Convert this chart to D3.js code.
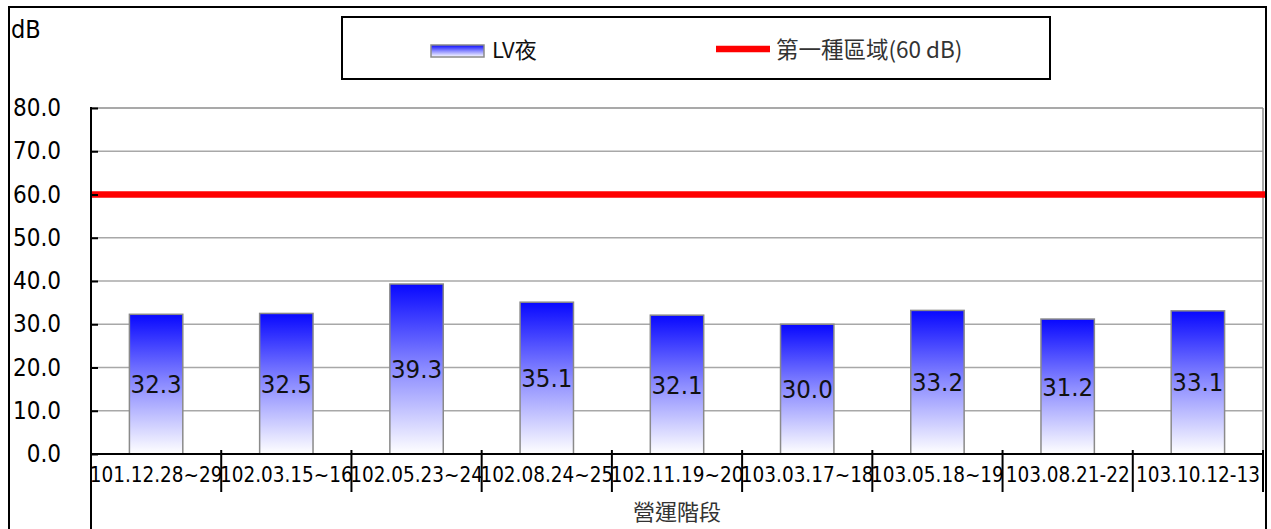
<!DOCTYPE html>
<html>
<head>
<meta charset="utf-8">
<script src="https://cdn.jsdelivr.net/npm/d3@7"></script>
<style>
    body { margin: 0; background: #fff; }
    svg { display: block; }
    .num { font-family: "DejaVu Sans Condensed", "DejaVu Sans", sans-serif; font-stretch: condensed; }
    .cjk { font-family: "Noto Sans CJK TC", "Noto Sans CJK SC", sans-serif; }
</style>
</head>
<body>
<svg></svg>
<script>
const categories = ["101.12.28~29", "102.03.15~16", "102.05.23~24", "102.08.24~25", "102.11.19~20",
    "103.03.17~18", "103.05.18~19", "103.08.21-22", "103.10.12-13"];
const values = [32.3, 32.5, 39.3, 35.1, 32.1, 30.0, 33.2, 31.2, 33.1];
const limitValue = 60;
const yTicks = [0, 10, 20, 30, 40, 50, 60, 70, 80];
const seriesName = "LV夜";
const limitName = "第一種區域(60 dB)";
const unitLabel = "dB";
const xTitle = "營運階段";

const width = 1271;
const height = 529;
const plotLeft = 91, plotRight = 1263, plotTop = 108, plotBottom = 454;

let svg = d3.select("svg").attr("width", width).attr("height", height);

// gradient for the bars: blue on top fading to white
let defs = svg.append("defs");
let grad = defs.append("linearGradient").attr("id", "barGrad")
    .attr("x1", 0).attr("y1", 0).attr("x2", 0).attr("y2", 1);
grad.append("stop").attr("offset", "0%").attr("stop-color", "#0808ff");
grad.append("stop").attr("offset", "50%").attr("stop-color", "#8c8cff");
grad.append("stop").attr("offset", "100%").attr("stop-color", "#ffffff");

let scX = d3.scaleBand().domain(categories).range([plotLeft, plotRight]);
let scY = d3.scaleLinear().domain([0, 80]).range([plotBottom, plotTop]);
const barW = scX.bandwidth() * 0.41;

// outer frame (open at the bottom)
svg.append("path")
    .attr("d", `M9,${height} L9,7 L1266,7 L1266,${height}`)
    .attr("fill", "none").attr("stroke", "#000").attr("stroke-width", 2);

// grid lines
svg.append("g").selectAll("line").data(yTicks.filter(d => d > 0)).enter().append("line")
    .attr("x1", plotLeft).attr("x2", plotRight)
    .attr("y1", d => scY(d)).attr("y2", d => scY(d))
    .attr("stroke", d => d === 80 ? "#8c8c8c" : "#a8a8a8").attr("stroke-width", 1.5);

// right edge of the plot area
svg.append("line")
    .attr("x1", plotRight).attr("x2", plotRight).attr("y1", plotTop).attr("y2", plotBottom)
    .attr("stroke", "#8c8c8c").attr("stroke-width", 1.5);

// bars
svg.selectAll(".bar").data(values).enter().append("rect").attr("class", "bar")
    .attr("x", (d, i) => scX(categories[i]) + scX.bandwidth() / 2 - barW / 2)
    .attr("y", d => scY(d))
    .attr("width", barW)
    .attr("height", d => scY(0) - scY(d))
    .attr("fill", "url(#barGrad)")
    .attr("stroke", "#8a8a8a").attr("stroke-width", 1.5);

// value labels, centred in the bar
svg.selectAll(".val").data(values).enter().append("text").attr("class", "val num")
    .attr("x", (d, i) => scX(categories[i]) + scX.bandwidth() / 2)
    .attr("y", d => (scY(d) + scY(0)) / 2)
    .attr("text-anchor", "middle").attr("dominant-baseline", "central")
    .attr("font-size", 25.5).attr("fill", "#111")
    .text(d => d3.format(".1f")(d));

// limit line
svg.append("line")
    .attr("x1", plotLeft).attr("x2", plotRight + 2)
    .attr("y1", scY(limitValue)).attr("y2", scY(limitValue))
    .attr("stroke", "#ff0000").attr("stroke-width", 6.5);

// y axis
let axisY = d3.axisLeft(scY).tickValues(yTicks).tickFormat(d3.format(".1f"))
    .tickSize(-7).tickSizeOuter(0).tickPadding(30);
let gY = svg.append("g").attr("transform", `translate(${plotLeft},0)`).call(axisY);
gY.select(".domain").remove();
gY.selectAll("line").attr("stroke", "#000").attr("stroke-width", 2);
gY.selectAll("text").attr("class", "num").attr("font-size", 24).attr("fill", "#000");
svg.append("line")
    .attr("x1", plotLeft).attr("x2", plotLeft).attr("y1", plotTop - 1).attr("y2", height)
    .attr("stroke", "#000").attr("stroke-width", 2);

// x axis
let axisX = d3.axisBottom(scX).tickSize(0).tickPadding(13);
let gX = svg.append("g").attr("transform", `translate(0,${plotBottom})`).call(axisX);
gX.select(".domain").remove();
gX.selectAll("text").attr("class", "num").attr("font-size", 20.5).attr("fill", "#000");
svg.append("line")
    .attr("x1", plotLeft).attr("x2", plotRight + 1).attr("y1", plotBottom).attr("y2", plotBottom)
    .attr("stroke", "#000").attr("stroke-width", 2);
let bounds = categories.slice(1).map(c => scX(c)).concat([plotRight]);
svg.append("g").selectAll("line").data(bounds).enter().append("line")
    .attr("x1", d => d).attr("x2", d => d)
    .attr("y1", plotBottom - 4).attr("y2", plotBottom + 38)
    .attr("stroke", "#000").attr("stroke-width", 2);

// axis titles
svg.append("text").attr("class", "num")
    .attr("x", 11).attr("y", 38).attr("font-size", 25).attr("fill", "#000")
    .text(unitLabel);
svg.append("text").attr("class", "cjk")
    .attr("x", (plotLeft + plotRight) / 2).attr("y", 520).attr("text-anchor", "middle")
    .attr("font-size", 22).attr("fill", "#333")
    .text(xTitle);

// legend
let legend = svg.append("g");
legend.append("rect")
    .attr("x", 342).attr("y", 17).attr("width", 708).attr("height", 62)
    .attr("fill", "#fff").attr("stroke", "#000").attr("stroke-width", 2);
legend.append("rect")
    .attr("x", 431).attr("y", 45).attr("width", 53).attr("height", 12)
    .attr("fill", "url(#barGrad)").attr("stroke", "#8a8a8a").attr("stroke-width", 1.5);
legend.append("text").attr("class", "cjk")
    .attr("x", 492).attr("y", 58).attr("font-size", 22).attr("fill", "#111")
    .text(seriesName);
legend.append("line")
    .attr("x1", 716).attr("x2", 770).attr("y1", 49).attr("y2", 49)
    .attr("stroke", "#ff0000").attr("stroke-width", 6.5);
legend.append("text").attr("class", "cjk")
    .attr("x", 776).attr("y", 58).attr("font-size", 22.5).attr("fill", "#333")
    .text(limitName);
</script>
</body>
</html>
